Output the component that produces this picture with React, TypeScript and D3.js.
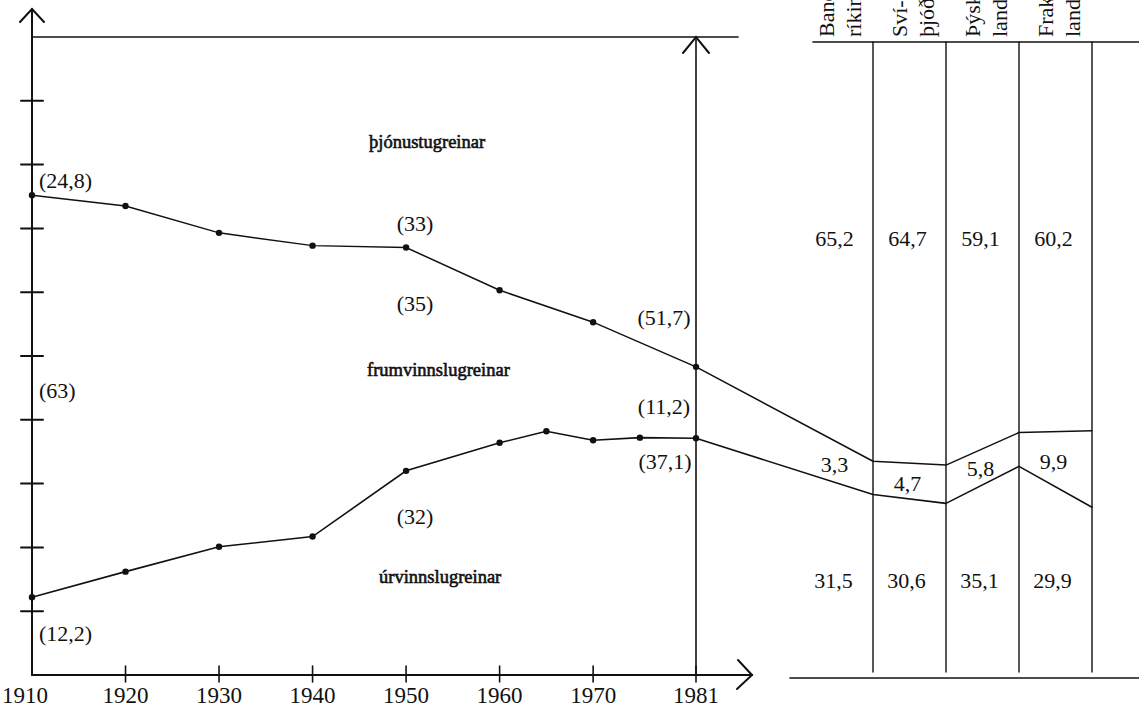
import React from "react";
import * as d3 from "d3";

// years on the x axis (1910 is the origin of the axis)
const tickYears = [1910, 1920, 1930, 1940, 1950, 1960, 1970, 1981];

// lower line: share of úrvinnslugreinar (%)
const lowerYears = [1910, 1920, 1930, 1940, 1950, 1960, 1965, 1970, 1975, 1981];
const lowerValues = [12.2, 16.2, 20.1, 21.7, 32, 36.4, 38.2, 36.8, 37.2, 37.1];

// upper line: úrvinnslugreinar + frumvinnslugreinar (%)
const upperYears = [1910, 1920, 1930, 1940, 1950, 1960, 1970, 1981];
const upperValues = [75.2, 73.5, 69.3, 67.3, 67, 60.3, 55.3, 48.3];

// comparison countries (1981)
const countries = ["Bandaríkin", "Svíþjóð", "Þýskaland", "Frakkland"];
const countryHeader = [
  ["Banda-", "ríkin"],
  ["Sví-", "þjóð"],
  ["Þýska-", "land"],
  ["Frakk-", "land"],
];
const serviceShare = ["65,2", "64,7", "59,1", "60,2"];
const primaryShare = ["3,3", "4,7", "5,8", "9,9"];
const industryShare = ["31,5", "30,6", "35,1", "29,9"];
// where the two lines meet the right edge of each country column (%)
const upperEdge = [33.5, 32.9, 38.0, 38.3];
const lowerEdge = [28.3, 26.9, 32.7, 26.3];

const W = 1139;
const H = 709;
const FONT = "'Liberation Serif', 'Times New Roman', serif";

export default function App() {
  const x = d3.scaleLinear().domain([1910, 1981]).range([32, 696]);
  const y = d3.scaleLinear().domain([0, 100]).range([675, 37]);
  const col = d3.scaleBand<string>().domain(countries).range([800, 1092]);

  const line = d3
    .line<[number, number]>()
    .x((d) => d[0])
    .y((d) => d[1]);

  const x0 = x(1910);
  const x81 = x(1981);
  const yBase = y(0);
  const yTop = y(100);

  const lowerPts: [number, number][] = lowerYears.map((yr, i) => [x(yr), y(lowerValues[i])]);
  const upperPts: [number, number][] = upperYears.map((yr, i) => [x(yr), y(upperValues[i])]);
  const edgeX = countries.map((c) => (col(c) as number) + col.bandwidth());
  const lowerRight: [number, number][] = [
    lowerPts[lowerPts.length - 1],
    ...countries.map((c, i) => [edgeX[i], y(lowerEdge[i])] as [number, number]),
  ];
  const upperRight: [number, number][] = [
    upperPts[upperPts.length - 1],
    ...countries.map((c, i) => [edgeX[i], y(upperEdge[i])] as [number, number]),
  ];

  // height of a polyline at a given x
  const interp = (pts: [number, number][], px: number) => {
    for (let i = 0; i < pts.length - 1; i++) {
      if (px >= pts[i][0] && px <= pts[i + 1][0]) {
        const t = (px - pts[i][0]) / (pts[i + 1][0] - pts[i][0]);
        return pts[i][1] + t * (pts[i + 1][1] - pts[i][1]);
      }
    }
    return pts[pts.length - 1][1];
  };

  const yTicks = d3.range(10, 100, 10);
  const txt = { fontFamily: FONT, fontSize: 22, fill: "#111" } as const;
  const arrowX = 752;

  return (
    <svg width={W} height={H} style={{ position: "absolute", left: 0, top: 0, background: "#fff" }}>
      <g stroke="#111" fill="none" strokeLinecap="round">
        {/* y axis with arrow */}
        <line x1={x0} y1={yBase} x2={x0} y2={9} strokeWidth={2} />
        <polyline points={`${x0 - 12},22 ${x0},9 ${x0 + 12},22`} strokeWidth={2} />
        {yTicks.map((t) => (
          <line key={t} x1={x0 - 11} x2={x0 + 11} y1={y(t)} y2={y(t)} strokeWidth={2} />
        ))}
        {/* x axis with arrow */}
        <line x1={x0} y1={yBase} x2={arrowX} y2={yBase} strokeWidth={2} />
        <polyline points={`${arrowX - 14},${yBase - 15} ${arrowX},${yBase} ${arrowX - 15},${yBase + 14}`} strokeWidth={2} />
        {tickYears.slice(1).map((t) => (
          <line key={t} x1={x(t)} x2={x(t)} y1={yBase - 9} y2={yBase + 7} strokeWidth={1.6} />
        ))}
        {/* 100% line and 1981 line */}
        <line x1={x0} y1={yTop} x2={738} y2={yTop} strokeWidth={1.6} />
        <line x1={x81} y1={yBase} x2={x81} y2={yTop} strokeWidth={1.6} />
        <polyline points={`${x81 - 13},${yTop + 16} ${x81},${yTop} ${x81 + 13},${yTop + 16}`} strokeWidth={2} />

        {/* country table */}
        <line x1={813} x2={W} y1={42} y2={42} strokeWidth={1.6} />
        <line x1={790} x2={W} y1={678} y2={678} strokeWidth={1.6} />
        {edgeX.map((ex, i) => (
          <line key={i} x1={ex} x2={ex} y1={42} y2={672} strokeWidth={1.4} />
        ))}

        {/* data lines */}
        <path d={line(upperPts) as string} strokeWidth={1.5} />
        <path d={line(lowerPts) as string} strokeWidth={1.6} />
        <path d={line(upperRight) as string} strokeWidth={1.5} strokeLinejoin="round" />
        <path d={line(lowerRight) as string} strokeWidth={1.6} strokeLinejoin="round" />
      </g>

      <g fill="#111">
        {upperPts.map((p, i) => (
          <circle key={"u" + i} cx={p[0]} cy={p[1]} r={3.2} />
        ))}
        {lowerPts.map((p, i) => (
          <circle key={"l" + i} cx={p[0]} cy={p[1]} r={3.2} />
        ))}
      </g>

      {/* year labels */}
      {tickYears.map((t) => (
        <text key={t} x={t === 1910 ? x(t) - 7 : x(t)} y={703} textAnchor="middle" {...txt} fontSize={23}>
          {t}
        </text>
      ))}

      {/* value annotations */}
      <text x={x0 + 7} y={y(upperValues[0]) - 7} {...txt}>(24,8)</text>
      <text x={x0 + 7} y={y((upperValues[0] + lowerValues[0]) / 2) + 2} {...txt}>(63)</text>
      <text x={x0 + 7} y={y(lowerValues[0]) + 44} {...txt}>(12,2)</text>
      <text x={x(1950) + 9} y={y(67) - 17} textAnchor="middle" {...txt}>(33)</text>
      <text x={x(1950) + 9} y={y(67) + 63} textAnchor="middle" {...txt}>(35)</text>
      <text x={x(1950) + 9} y={y(32) + 53} textAnchor="middle" {...txt}>(32)</text>
      <text x={x81 - 32} y={y(48.3) - 42} textAnchor="middle" {...txt}>(51,7)</text>
      <text x={x81 - 32} y={y(37.1) - 24} textAnchor="middle" {...txt}>(11,2)</text>
      <text x={x81 - 31} y={y(37.1) + 31} textAnchor="middle" {...txt}>(37,1)</text>

      {/* sector names */}
      <g fontFamily={FONT} fontSize={18.5} fill="#111" stroke="#111" strokeWidth={0.6}>
        <text x={369} y={148}>þjónustugreinar</text>
        <text x={367} y={376}>frumvinnslugreinar</text>
        <text x={379} y={583}>úrvinnslugreinar</text>
      </g>

      {/* country headers, rotated and cut by the top edge like in the source */}
      {countries.map((c, i) => {
        const cx = (col(c) as number) + col.bandwidth() / 2;
        return countryHeader[i].map((ln, j) => (
          <text
            key={c + j}
            transform={`translate(${cx - 3 + j * 27},37) rotate(-90)`}
            fontFamily={FONT}
            fontSize={22}
            fill="#111"
          >
            {ln}
          </text>
        ));
      })}

      {/* country shares */}
      {countries.map((c, i) => {
        const cx = (col(c) as number) + col.bandwidth() / 2;
        const mid = (interp(upperRight, cx) + interp(lowerRight, cx)) / 2;
        return (
          <g key={c} textAnchor="middle">
            <text x={cx - 2} y={246} {...txt}>{serviceShare[i]}</text>
            <text x={cx - 2} y={mid + 2} dominantBaseline="central" {...txt}>{primaryShare[i]}</text>
            <text x={cx - 3} y={588} {...txt}>{industryShare[i]}</text>
          </g>
        );
      })}
    </svg>
  );
}
